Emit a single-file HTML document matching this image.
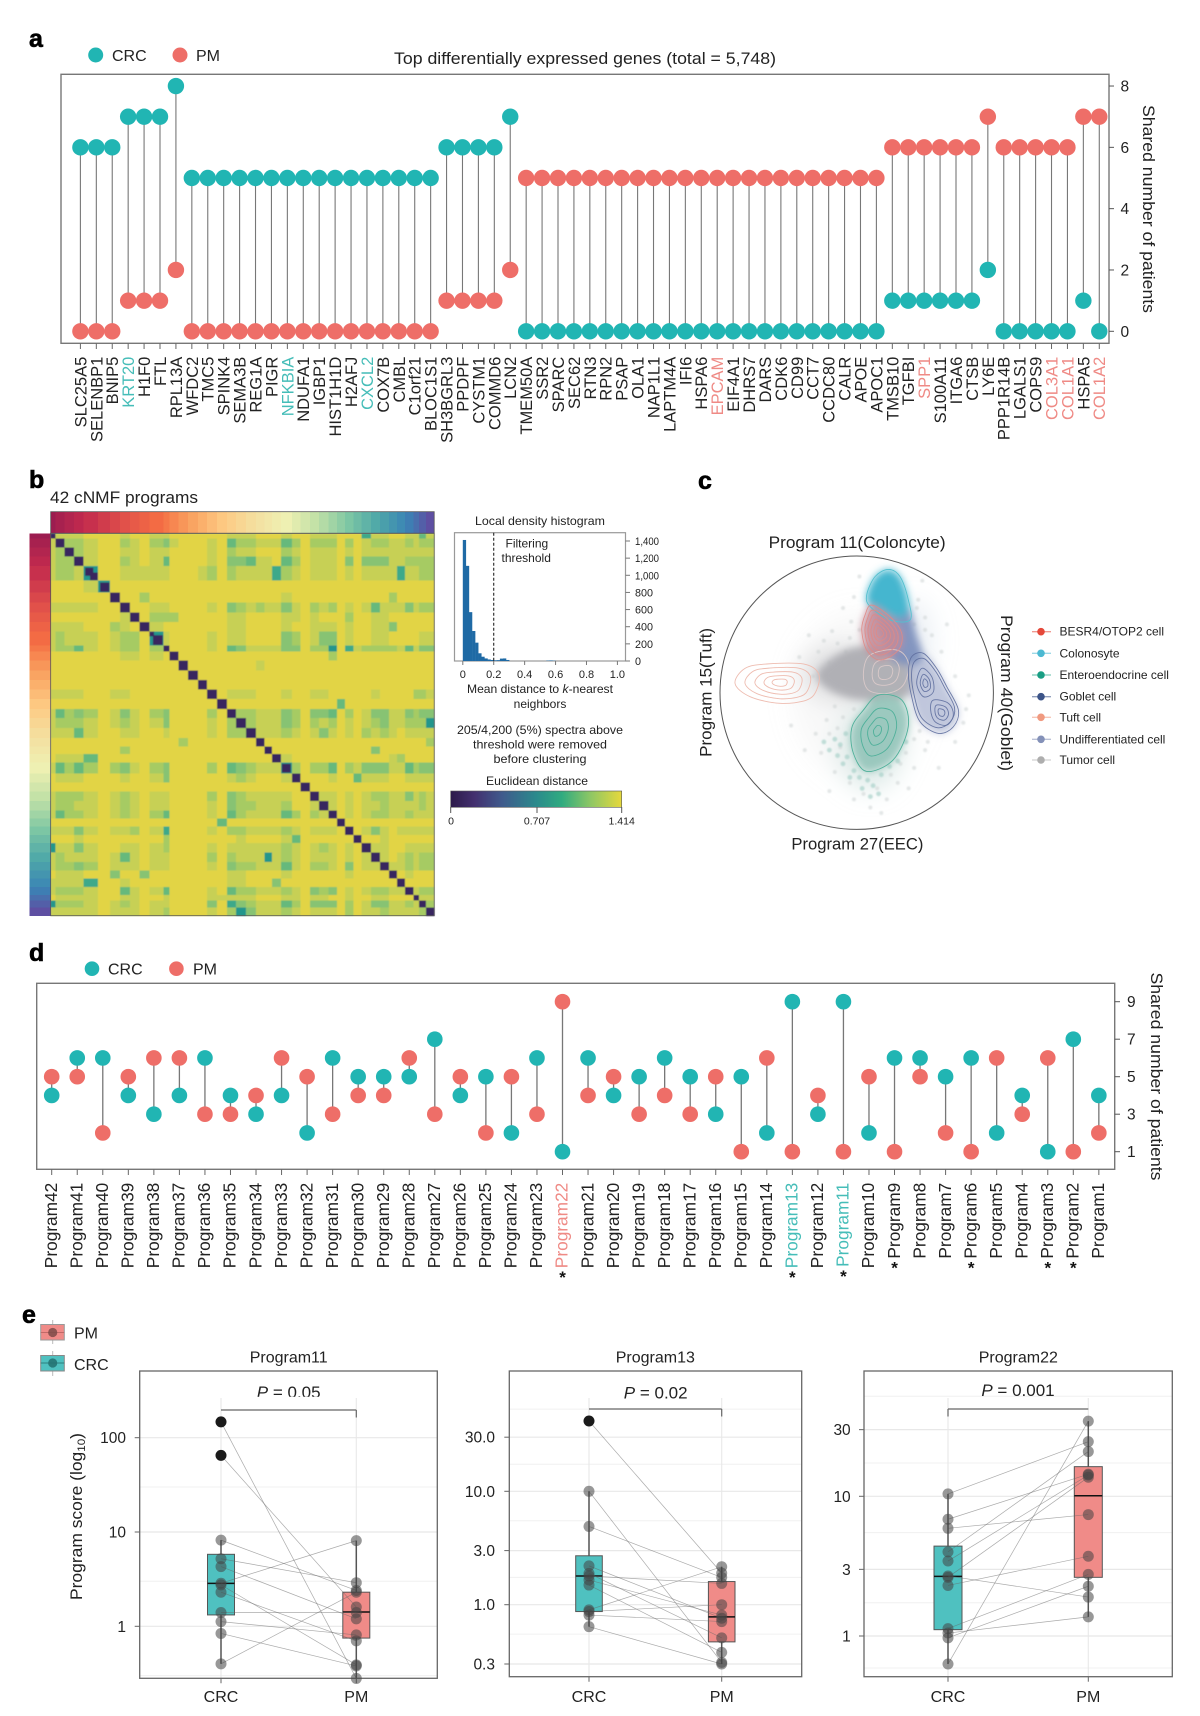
<!DOCTYPE html>
<html lang="en">
<head>
<meta charset="utf-8">
<title>Shared genes and cNMF programs figure</title>
<style>
html,body{margin:0;padding:0;background:#fff;}
svg{display:block;font-family:"Liberation Sans",sans-serif;}
text{fill:#222;}
</style>
</head>
<body>
<svg id="fig" xmlns="http://www.w3.org/2000/svg" width="1200" height="1716" viewBox="0 0 1200 1716">
<defs>
  <filter id="soft" x="-20%" y="-20%" width="140%" height="140%"><feGaussianBlur stdDeviation="0.45"/></filter>
  <filter id="grain" x="-20%" y="-20%" width="140%" height="140%"><feGaussianBlur stdDeviation="0.8"/></filter>
  <filter id="cloudBlur" x="-30%" y="-30%" width="160%" height="160%"><feGaussianBlur stdDeviation="4"/></filter>
  <filter id="hazeBlur" x="-50%" y="-50%" width="200%" height="200%"><feGaussianBlur stdDeviation="12"/></filter>
  <clipPath id="circleClip"><circle cx="856.7" cy="692.7" r="136.7"/></clipPath>
  <linearGradient id="euclid" x1="0" x2="1" y1="0" y2="0">
    <stop offset="0" stop-color="#2c1a4a"/><stop offset="0.14" stop-color="#43306f"/>
    <stop offset="0.3" stop-color="#3f5a8c"/><stop offset="0.5" stop-color="#2b8a8c"/>
    <stop offset="0.65" stop-color="#30ab80"/><stop offset="0.82" stop-color="#8fc764"/>
    <stop offset="1" stop-color="#e6d83c"/>
  </linearGradient>
</defs>

<rect x="0" y="0" width="1200" height="1716" fill="#fff"/>

<!-- Panel letters -->
<text x="29" y="47" font-size="25" font-weight="bold" style="fill:#000" stroke="#000" stroke-width="0.6">a</text>
<text x="29" y="488" font-size="25" font-weight="bold" style="fill:#000" stroke="#000" stroke-width="0.6">b</text>
<text x="698" y="489" font-size="25" font-weight="bold" style="fill:#000" stroke="#000" stroke-width="0.6">c</text>
<text x="29" y="961" font-size="25" font-weight="bold" style="fill:#000" stroke="#000" stroke-width="0.6">d</text>
<text x="22" y="1323" font-size="25" font-weight="bold" style="fill:#000" stroke="#000" stroke-width="0.6">e</text>

<!-- Panel a static -->
<g>
  <circle cx="95.7" cy="55" r="7.5" fill="#21b5b3"/>
  <text x="112" y="61" font-size="16">CRC</text>
  <circle cx="180" cy="55" r="7.5" fill="#ee6e68"/>
  <text x="196" y="61" font-size="16">PM</text>
  <text x="394" y="64" font-size="17" textLength="382" lengthAdjust="spacingAndGlyphs">Top differentially expressed genes (total = 5,748)</text>
  <rect x="61" y="74.3" width="1048" height="269" fill="none" stroke="#777" stroke-width="1.4"/>
  <text transform="translate(1149,209) rotate(90)" text-anchor="middle" dy="6" font-size="17" textLength="208" lengthAdjust="spacingAndGlyphs">Shared number of patients</text>
  <g id="panelA"></g>
</g>

<!-- Panel b static -->
<g>
  <text x="50" y="503" font-size="17" textLength="148" lengthAdjust="spacingAndGlyphs">42 cNMF programs</text>
  <g id="panelB"></g>
  <text x="540" y="525" font-size="12" text-anchor="middle" textLength="130" lengthAdjust="spacingAndGlyphs">Local density histogram</text>
  <rect x="454.5" y="532.7" width="171" height="128.3" fill="#fff" stroke="#999" stroke-width="1.2"/>
  <g id="panelHist"></g>
  <text x="505.5" y="547.5" font-size="12">Filtering</text>
  <text x="501.5" y="562" font-size="12">threshold</text>
  <text x="540" y="693" font-size="12" text-anchor="middle" textLength="146" lengthAdjust="spacingAndGlyphs">Mean distance to <tspan font-style="italic">k</tspan>-nearest</text>
  <text x="540" y="708" font-size="12" text-anchor="middle">neighbors</text>
  <text x="540" y="734" font-size="12" text-anchor="middle" textLength="166" lengthAdjust="spacingAndGlyphs">205/4,200 (5%) spectra above</text>
  <text x="540" y="748.5" font-size="12" text-anchor="middle" textLength="134" lengthAdjust="spacingAndGlyphs">threshold were removed</text>
  <text x="540" y="763" font-size="12" text-anchor="middle" textLength="93" lengthAdjust="spacingAndGlyphs">before clustering</text>
  <text x="537" y="785" font-size="12" text-anchor="middle" textLength="102" lengthAdjust="spacingAndGlyphs">Euclidean distance</text>
  <rect x="450.7" y="791" width="171" height="16.3" fill="url(#euclid)" stroke="#555" stroke-width="0.6"/>
  <line x1="450.7" x2="450.7" y1="807" y2="813" stroke="#555"/>
  <line x1="537" x2="537" y1="807" y2="813" stroke="#555"/>
  <line x1="621.7" x2="621.7" y1="807" y2="813" stroke="#555"/>
  <text x="451" y="824.5" font-size="10.5" text-anchor="middle">0</text>
  <text x="537" y="824.5" font-size="10.5" text-anchor="middle">0.707</text>
  <text x="621.7" y="824.5" font-size="10.5" text-anchor="middle">1.414</text>
</g>

<!-- Panel c static -->
<g>
  <g id="panelC"></g>
  <circle cx="856.7" cy="692.7" r="136.7" fill="none" stroke="#555" stroke-width="1"/>
  <text x="768.6" y="548" font-size="17" textLength="177" lengthAdjust="spacingAndGlyphs">Program 11(Coloncyte)</text>
  <text x="791.4" y="849.5" font-size="17" textLength="132" lengthAdjust="spacingAndGlyphs">Program 27(EEC)</text>
  <text transform="translate(711.5,692.4) rotate(-90)" text-anchor="middle" font-size="17" textLength="129" lengthAdjust="spacingAndGlyphs">Program 15(Tuft)</text>
  <text transform="translate(1001,693) rotate(90)" text-anchor="middle" font-size="17" textLength="156" lengthAdjust="spacingAndGlyphs">Program 40(Goblet)</text>
  <g id="legendC"></g>
</g>

<!-- Panel d static -->
<g>
  <circle cx="92" cy="968.7" r="7.3" fill="#21b5b3"/>
  <text x="108" y="974.5" font-size="16">CRC</text>
  <circle cx="176.4" cy="968.7" r="7.3" fill="#ee6e68"/>
  <text x="193" y="974.5" font-size="16">PM</text>
  <rect x="36.7" y="983.3" width="1078" height="186" fill="none" stroke="#777" stroke-width="1.4"/>
  <text transform="translate(1157,1076.5) rotate(90)" text-anchor="middle" dy="6" font-size="17" textLength="208" lengthAdjust="spacingAndGlyphs">Shared number of patients</text>
  <g id="panelD"></g>
</g>

<!-- Panel e static -->
<g>
  <g>
    <line x1="52.7" x2="52.7" y1="1320" y2="1344" stroke="#bbb"/>
    <rect x="40.7" y="1324.5" width="23.6" height="15.5" fill="#f08b88" stroke="#999"/>
    <line x1="40.7" x2="64.3" y1="1332.5" y2="1332.5" stroke="#c06a68"/>
    <circle cx="52.7" cy="1332.5" r="4.6" fill="#7c4a48" opacity="0.85"/>
    <text x="74" y="1338.5" font-size="16">PM</text>
    <line x1="52.7" x2="52.7" y1="1351" y2="1376" stroke="#bbb"/>
    <rect x="40.7" y="1355.5" width="23.6" height="15.5" fill="#4fc1c0" stroke="#888"/>
    <line x1="40.7" x2="64.3" y1="1363" y2="1363" stroke="#2c7f7e"/>
    <circle cx="52.7" cy="1363" r="4.6" fill="#257473" opacity="0.9"/>
    <text x="74" y="1370" font-size="16">CRC</text>
  </g>
  <text transform="translate(82,1516.5) rotate(-90)" text-anchor="middle" font-size="16.5" textLength="167" lengthAdjust="spacingAndGlyphs">Program score (log<tspan font-size="11" dy="3">10</tspan><tspan dy="-3">)</tspan></text>
  <g id="panelE"></g>
</g>

<script>
// ---------- Panel a data ----------
const geneNames = ["SLC25A5","SELENBP1","BNIP5","KRT20","H1F0","FTL","RPL13A","WFDC2","TMC5","SPINK4","SEMA3B","REG1A","PIGR","NFKBIA","NDUFA1","IGBP1","HIST1H1D","H2AFJ","CXCL2","COX7B","CMBL","C1orf21","BLOC1S1","SH3BGRL3","PPDPF","CYSTM1","COMMD6","LCN2","TMEM50A","SSR2","SPARC","SEC62","RTN3","RPN2","PSAP","OLA1","NAP1L1","LAPTM4A","IFI6","HSPA6","EPCAM","EIF4A1","DHRS7","DARS","CDK6","CD99","CCT7","CCDC80","CALR","APOE","APOC1","TMSB10","TGFBI","SPP1","S100A11","ITGA6","CTSB","LY6E","PPP1R14B","LGALS1","COPS9","COL3A1","COL1A1","HSPA5","COL1A2"];
const geneCrc = [6,6,6,7,7,7,8,5,5,5,5,5,5,5,5,5,5,5,5,5,5,5,5,6,6,6,6,7,0,0,0,0,0,0,0,0,0,0,0,0,0,0,0,0,0,0,0,0,0,0,0,1,1,1,1,1,1,2,0,0,0,0,0,1,0];
const genePm = [0,0,0,1,1,1,2,0,0,0,0,0,0,0,0,0,0,0,0,0,0,0,0,1,1,1,1,2,5,5,5,5,5,5,5,5,5,5,5,5,5,5,5,5,5,5,5,5,5,5,5,6,6,6,6,6,6,7,6,6,6,6,6,7,7];
const geneTeal = ["KRT20","NFKBIA","CXCL2"];
const geneRed = ["EPCAM","SPP1","COL3A1","COL1A1","COL1A2"];
const aTicks = [0,2,4,6,8];

// ---------- Panel b data ----------
const clusterSizes = [15,27,28,29,43,36,30,30,29,29,42,18,27,29,29,28,29,30,28,29,31,25,23,26,33,26,28,28,28,25,24,26,24,28,28,26,24,25,25,17,21,24];
const heatRows = [
"0888999899 8899999988 8999899888 9994889988 58",
"8077899789 7689998957 7888579777 9798778878 77",
"8707899889 8899998978 8999789888 9898888888 88",
"8770899789 8599998966 5889579888 9696668877 77",
"8778399888 8899987978 8884789888 9898888488 77",
"9999839999 9999999999 9999999999 9999999999 99",
"9999990997 9999999999 9999899999 9999997999 99",
"8888899099 8899998967 8788689787 9898588868 77",
"9999999809 7779999988 9999889899 9799889999 99",
"8888997890 8999999988 9999899888 9899886999 99",
"8788898779 3899998988 9999679866 9899889999 88",
"8775898779 7099998956 8888669773 9487777858 66",
"9999999889 8909999999 9999999997 9999999999 99",
"9999999999 9990999999 9899999999 9999999999 99",
"9999999999 9999099999 9999999999 9999999999 99",
"9999999999 9999909999 9999999999 9999999999 99",
"8888998899 9999990988 8999899889 9999899997 78",
"9999999999 9999999099 9999999999 5999999999 99",
"8576798689 7699997907 7888679665 9798668867 66",
"8777898789 8699998970 7888679787 9898768877 73",
"8885899889 9899998977 0888789868 9897878988 88",
"9999999999 9997999999 9099999999 9999999999 97",
"9999999799 9999999999 9909999999 9999699999 99",
"9888599999 9999999999 9990899999 9999998799 99",
"8575797689 7699997956 7888379775 9786668857 66",
"9888999899 8699999987 8999809998 9958889988 88",
"9999999999 9999999999 9999990999 9999999999 99",
"8777898789 8899997967 8888899088 9898778868 78",
"8778898789 8899998967 7888799808 9898878888 78",
"8577898789 7599998957 8888579780 9898778878 88",
"9999999999 9999999599 9999999999 0999999999 99",
"8886898879 8499998977 8888789888 9098689888 88",
"9998999999 9799999998 9999859999 9909989999 99",
"3886899889 8799998988 8888789878 9890889988 88",
"8788898589 8899997978 8838789888 9898089878 77",
"8776798889 8899998967 7888589778 9698808878 77",
"9888996996 9999999988 9999899999 9899990989 99",
"8888499899 9999999988 9996999999 9999999099 99",
"8777899589 8599998957 7888789676 9898778808 77",
"9888899889 9899998888 8999889889 9899889990 88",
"3777898789 8899996946 7888579666 9798668878 07",
"8888898889 8799998973 6888789888 9798878888 70"
];
const subClusterPrograms = [4,4,5,10,10,24];
const subClusterStart = [0.1,0.44,0.17,0,0.25,0.1];
const subClusterEnd = [0.67,0.98,0.94,0.33,0.95,0.9];
const heatLevelColors = ["#37275f","#3a3f80","#2f6f90","#23968c","#3ea98a","#66b97c","#87c373","#a6cb63","#c7d055","#e2d445"];
const spectralStops = ["#9c1d50","#c22a4e","#e0504a","#f46d43","#f9a05e","#fdc982","#f4e0a0","#eff0b2","#bfe0a6","#80c8a4","#4fa8a8","#3a85b5","#5e4fa2"];

// ---------- Histogram data ----------
const histCounts = [1412,1110,570,350,214,90,50,30,18,12,8,10,28,30,12,0,0,0,0,0,0,0,0,0,0,0,0,4,6,3];
const histBinWidth = 0.02;
const histThreshold = 0.2;
const histXTicks = [0,0.2,0.4,0.6,0.8,1.0];
const histXLabels = ["0","0.2","0.4","0.6","0.8","1.0"];
const histYTicks = [0,200,400,600,800,1000,1200,1400];
const histYLabels = ["0","200","400","600","800","1,000","1,200","1,400"];

// ---------- Panel c data (normalised polar coordinates) ----------
const cCellTypes = ["BESR4/OTOP2 cell","Colonosyte","Enteroendocrine cell","Goblet cell","Tuft cell","Undifferentiated cell","Tumor cell"];
const cCellColors = ["#e5483a","#4cb9d2","#1a9e84","#3c5488","#f09a80","#8491b8","#aeaeae"];
const cHazeEllipses = [[0.02,0.02,0.5,0.62,"#d2d4d6",0.16],[0.1,0.4,0.24,0.32,"#c4dcd7",0.5],[-0.1,-0.14,0.3,0.2,"#c4c4c8",0.55],[0.42,-0.38,0.14,0.3,"#c8d4e2",0.35]];
const cGreyMass = [[-0.29,-0.14],[-0.12,-0.29],[0.07,-0.34],[0.34,-0.29],[0.39,0],[0.24,0.05],[0,0.05],[-0.2,-0.02]];
const cBlueBand = [[0.2,-0.72],[0.36,-0.68],[0.44,-0.42],[0.48,-0.27],[0.4,-0.2],[0.25,-0.25],[0.15,-0.5]];
const cGobletFill = [[0.402,-0.263],[0.488,-0.288],[0.585,-0.178],[0.659,-0.044],[0.744,0.127],[0.707,0.249],[0.598,0.298],[0.463,0.212],[0.402,0.029],[0.378,-0.141]];
const cEecFill = [[0.16,0.017],[0.33,0.054],[0.377,0.249],[0.268,0.49],[0.073,0.576],[-0.024,0.444],[-0.037,0.261],[0.049,0.127]];
const cColonFill = [[0.232,-0.902],[0.317,-0.849],[0.378,-0.678],[0.36,-0.56],[0.244,-0.56],[0.098,-0.63],[0.073,-0.715],[0.134,-0.849]];
const cBesrFill = [[0.11,-0.641],[0.244,-0.556],[0.329,-0.434],[0.305,-0.312],[0.171,-0.239],[0.073,-0.312],[0.037,-0.459],[0.061,-0.568]];
const cContourTuft = [[-0.89,-0.068],[-0.817,-0.178],[-0.659,-0.21],[-0.39,-0.21],[-0.28,-0.141],[-0.293,-0.02],[-0.366,0.054],[-0.561,0.078],[-0.78,0.029]];
const cContourColon = [[0.232,-0.902],[0.317,-0.849],[0.378,-0.678],[0.39,-0.532],[0.244,-0.532],[0.098,-0.63],[0.073,-0.715],[0.134,-0.849]];
const cContourBesr = [[0.11,-0.641],[0.244,-0.556],[0.329,-0.434],[0.305,-0.312],[0.171,-0.239],[0.073,-0.312],[0.037,-0.459],[0.061,-0.568]];
const cContourTumor = [[0.098,-0.276],[0.293,-0.312],[0.378,-0.215],[0.341,-0.056],[0.22,0.005],[0.085,-0.02],[0.049,-0.141]];
const cContourGoblet = [[0.402,-0.263],[0.488,-0.288],[0.585,-0.178],[0.659,-0.044],[0.744,0.127],[0.707,0.249],[0.598,0.298],[0.463,0.212],[0.402,0.029],[0.378,-0.141]];
const cContourGobletA = [[0.476,-0.178],[0.549,-0.117],[0.561,-0.007],[0.488,0.029],[0.439,-0.068]];
const cContourGobletB = [[0.561,0.054],[0.671,0.078],[0.707,0.163],[0.659,0.237],[0.573,0.212],[0.541,0.127]];
const cContourEec = [[0.16,0.017],[0.33,0.054],[0.377,0.249],[0.268,0.49],[0.073,0.576],[-0.024,0.444],[-0.037,0.261],[0.049,0.127]];
const cSparsePoints = [[-0.35,-0.42],[-0.28,-0.3],[-0.18,-0.45],[-0.1,-0.62],[-0.05,-0.4],[-0.42,-0.26],[-0.2,-0.22],[0.5,-0.55],[0.55,-0.42],[0.62,-0.3],[0.45,-0.68],[0.72,-0.12],[0.8,0.12],[0.72,0.36],[0.5,0.42],[0.42,0.55],[0.3,0.66],[0.22,0.78],[0.05,0.74],[-0.05,0.66],[-0.16,0.58],[-0.26,0.44],[-0.3,0.3],[-0.38,0.42],[-0.2,0.72],[0.1,0.84],[-0.12,0.4],[-0.22,0.2],[-0.48,0.24],[0.38,0.7],[0.6,0.55],[-0.02,-0.7],[0.02,-0.85],[0.48,-0.82],[0.66,-0.5],[-0.32,-0.12],[-0.04,-0.52],[0.02,-0.46],[-0.14,-0.36],[-0.24,-0.38],[-0.08,-0.3],[-0.02,0.12],[-0.1,0.18],[-0.16,0.1],[-0.2,0.3],[-0.14,0.26],[0.42,0.34],[0.46,0.28],[0.52,0.36],[0.36,0.44],[0.15,0.7],[0.25,0.6],[0.32,0.52],[-0.02,0.78],[0.18,0.88],[0.42,-0.5],[0.5,-0.46],[0.44,-0.62],[0.78,0.22],[0.82,0.02]];
const cEecSpray = [[-0.08,0.3],[-0.12,0.38],[-0.16,0.34],[-0.07,0.47],[-0.02,0.57],[-0.1,0.52],[0.02,0.62],[0.08,0.64],[0.12,0.68],[0.04,0.7],[-0.05,0.62],[0.18,0.6],[0.24,0.54],[-0.14,0.46],[-0.2,0.42],[-0.24,0.36],[0.16,0.74],[0.1,0.76],[0.36,0.36],[0.3,0.5]];
const cContourLevels = [1,0.78,0.56,0.36,0.18];

// ---------- Panel d data ----------
const programNames = ["Program42","Program41","Program40","Program39","Program38","Program37","Program36","Program35","Program34","Program33","Program32","Program31","Program30","Program29","Program28","Program27","Program26","Program25","Program24","Program23","Program22","Program21","Program20","Program19","Program18","Program17","Program16","Program15","Program14","Program13","Program12","Program11","Program10","Program9","Program8","Program7","Program6","Program5","Program4","Program3","Program2","Program1"];
const programCrc = [4,6,6,4,3,4,6,4,3,4,2,6,5,5,5,7,4,5,2,6,1,6,4,5,6,5,3,5,2,9,3,9,2,6,6,5,6,2,4,1,7,4];
const programPm = [5,5,2,5,6,6,3,3,4,6,5,3,4,4,6,3,5,2,5,3,9,4,5,3,4,3,5,1,6,1,4,1,5,1,5,2,1,6,3,6,1,2];
const programRed = ["Program22"];
const programTeal = ["Program13","Program11"];
const programStarred = ["Program22","Program13","Program11","Program9","Program6","Program3","Program2"];
const dTicks = [1,3,5,7,9];

// ---------- Panel e data ----------
const p11CrcScores = [147,65,8.2,5.2,4.3,2.86,2.75,2.3,1.4,1.12,0.84,0.4];
const p11PmScores = [0.28,1.6,2.4,2.9,1.2,8.1,0.39,0.7,1.4,0.81,0.38,2.3];
const p11CrcBox = [0.4,1.32,2.85,5.8,8.2];
const p11PmBox = [0.28,0.75,1.42,2.3,8.1];
const p11Ticks = [1,10,100];
const p11TickLabels = ["1","10","100"];
const p11Minor = [0.3,3,30];
const p13CrcScores = [41.7,10,4.9,2.2,1.89,1.79,1.65,1.49,0.9,0.87,0.81,0.64];
const p13PmScores = [1.9,0.31,1.74,0.76,0.51,1.54,0.81,0.38,2.16,1.0,0.71,0.3];
const p13CrcBox = [0.64,0.87,1.79,2.7,10];
const p13PmBox = [0.3,0.47,0.78,1.6,2.16];
const p13Ticks = [0.3,1,3,10,30];
const p13TickLabels = ["0.3","1.0","3.0","10.0","30.0"];
const p13Minor = [0.55,1.74,5.5,17.3,53];
const p22CrcScores = [10.4,6.85,5.9,4.0,3.44,2.69,2.63,2.3,1.13,1.05,0.97,0.63];
const p22PmScores = [24.6,14.4,7.4,20.9,14.2,1.9,13.7,3.72,2.76,1.37,2.27,34.5];
const p22CrcBox = [0.63,1.11,2.67,4.4,10.4];
const p22PmBox = [1.37,2.63,10.1,16.3,34.5];
const p22Ticks = [1,3,10,30];
const p22TickLabels = ["1","3","10","30"];
const p22Minor = [0.59,1.73,5.5,17.3,52];
const pValues = ["0.05","0.02","0.001"];
const programTitles = ["Program11","Program13","Program22"];
const groupLabels = ["CRC","PM"];

// ---------- Helpers ----------
const NS = "http://www.w3.org/2000/svg";
const TEAL = "#21b5b3", CORAL = "#ee6e68", LABEL_TEAL = "#45bdb8", LABEL_RED = "#ef8a85";
function mk(tag, attrs, parent, txt) {
  const e = document.createElementNS(NS, tag);
  for (const k in attrs) e.setAttribute(k, attrs[k]);
  if (txt !== undefined) e.textContent = txt;
  parent.appendChild(e);
  return e;
}
function hexMix(a, b, t) {
  const pa = [1,3,5].map(i => parseInt(a.substr(i,2),16));
  const pb = [1,3,5].map(i => parseInt(b.substr(i,2),16));
  return "rgb(" + pa.map((v,i) => Math.round(v + (pb[i]-v)*t)).join(",") + ")";
}
function spectral(t) {
  const p = t * (spectralStops.length - 1);
  const i = Math.min(Math.floor(p), spectralStops.length - 2);
  return hexMix(spectralStops[i], spectralStops[i+1], p - i);
}

// ---------- Panel a ----------
(function () {
  const root = document.getElementById("panelA");
  const xA = i => 80.4 + 15.92 * i;
  const yA = v => 331.3 - 30.66 * v;
  geneNames.forEach((g, i) => {
    const stem = mk("line", {x1:xA(i), x2:xA(i), y1:yA(geneCrc[i]), y2:yA(genePm[i]), stroke:"#777", "stroke-width":1.1}, root);
    
    
    const tick = mk("line", {x1:xA(i), x2:xA(i), y1:343.3, y2:349, stroke:"#666", "stroke-width":1}, root);
    
    
    const col = geneTeal.includes(g) ? LABEL_TEAL : geneRed.includes(g) ? LABEL_RED : "#222";
    const lab = mk("text", {transform:"translate(" + xA(i) + ",356.7) rotate(-90)", "text-anchor":"end", dy:"0.36em", "font-size":16.5, style:"fill:" + col}, root, g);
    
    
  });
  geneNames.forEach((g, i) => {
    const c = mk("circle", {cx:xA(i), cy:yA(geneCrc[i]), r:8.2, fill:TEAL}, root);
    
    
    const p = mk("circle", {cx:xA(i), cy:yA(genePm[i]), r:8.2, fill:CORAL}, root);
    
    
  });
  aTicks.forEach(v => {
    const t = mk("line", {x1:1109, x2:1114, y1:yA(v), y2:yA(v), stroke:"#555"}, root);
    
    
    const l = mk("text", {x:1120.5, y:yA(v)+5.5, "font-size":15.5}, root, String(v));
    
    
  });
})();

// ---------- Panel b heatmap ----------
(function () {
  const root = document.getElementById("panelB");
  const total = clusterSizes.reduce((a,b) => a+b, 0);
  const X0 = 50.7, Y0 = 533.3, W = 383.5, H = 382.4;
  const edgesX = [X0], edgesY = [Y0];
  let acc = 0;
  clusterSizes.forEach(s => { acc += s; edgesX.push(X0 + W*acc/total); edgesY.push(Y0 + H*acc/total); });
  const g = mk("g", {filter:"url(#soft)"}, root);
  
  
  const rows = heatRows.map(r => r.replace(/ /g,""));
  rows.forEach((row, r) => {
    for (let c = 0; c < row.length; c++) {
      const cell = mk("rect", {x:edgesX[c], y:edgesY[r], width:edgesX[c+1]-edgesX[c]+0.4, height:edgesY[r+1]-edgesY[r]+0.4, fill:heatLevelColors[+row[c]], "shape-rendering":"crispEdges"}, g);
      
      
    }
  });
  subClusterPrograms.forEach((p, i) => {
    const wX = edgesX[p+1]-edgesX[p], wY = edgesY[p+1]-edgesY[p];
    const sub = mk("rect", {x:edgesX[p]+wX*subClusterStart[i], y:edgesY[p]+wY*subClusterStart[i], width:wX*(subClusterEnd[i]-subClusterStart[i]), height:wY*(subClusterEnd[i]-subClusterStart[i]), fill:heatLevelColors[0]}, g);
    
    
  });
  clusterSizes.forEach((s, i) => {
    const col = spectral(i / (clusterSizes.length - 1));
    const top = mk("rect", {x:edgesX[i], y:511.7, width:edgesX[i+1]-edgesX[i]+0.4, height:21.6, fill:col, "shape-rendering":"crispEdges"}, root);
    
    
    const left = mk("rect", {x:29.3, y:edgesY[i], width:21.4, height:edgesY[i+1]-edgesY[i]+0.4, fill:col, "shape-rendering":"crispEdges"}, root);
    
    
  });
  const f1 = mk("rect", {x:50.7, y:511.7, width:383.5, height:21.6, fill:"none", stroke:"#555", "stroke-width":0.8}, root);
  
  
  const f2 = mk("rect", {x:50.7, y:533.3, width:383.5, height:382.4, fill:"none", stroke:"#555", "stroke-width":0.8}, root);
  
  
})();

// ---------- Histogram ----------
(function () {
  const root = document.getElementById("panelHist");
  const xH = v => 462.8 + 154.6 * v;
  const yH = c => 661 - c * (120 / 1400);
  histCounts.forEach((c, i) => {
    if (!c) return;
    const b = mk("rect", {x:xH(i*histBinWidth), y:yH(c), width:xH(histBinWidth)-xH(0)+0.2, height:yH(0)-yH(c), fill:"#1f6aa5"}, root);
    
    
  });
  const th = mk("line", {x1:xH(histThreshold), x2:xH(histThreshold), y1:532.7, y2:661, stroke:"#222", "stroke-width":1.1, "stroke-dasharray":"3 2"}, root);
  
  
  histXTicks.forEach((v, i) => {
    const t = mk("line", {x1:xH(v), x2:xH(v), y1:661, y2:665, stroke:"#777"}, root);
    
    
    const l = mk("text", {x:xH(v), y:678, "font-size":11, "text-anchor":"middle"}, root, histXLabels[i]);
    
    
  });
  histYTicks.forEach((v, i) => {
    const t = mk("line", {x1:625.5, x2:630, y1:yH(v), y2:yH(v), stroke:"#777"}, root);
    
    
    const l = mk("text", {x:635, y:yH(v)+4, "font-size":11, textLength:histYLabels[i].length > 3 ? 24 : histYLabels[i].length*6, lengthAdjust:"spacingAndGlyphs"}, root, histYLabels[i]);
    
    
  });
})();

// ---------- Panel c ----------
(function () {
  const root = document.getElementById("panelC");
  const CX = 856.7, CY = 692.7, R = 136.7;
  const xC = u => CX + R * u;
  const yC = v => CY + R * v;
  function smooth(pts) {
    const n = pts.length;
    let d = "M" + pts[0][0] + " " + pts[0][1];
    for (let i = 0; i < n; i++) {
      const p0 = pts[(i-1+n)%n], p1 = pts[i], p2 = pts[(i+1)%n], p3 = pts[(i+2)%n];
      d += "C" + (p1[0]+(p2[0]-p0[0])/6) + " " + (p1[1]+(p2[1]-p0[1])/6) + " " + (p2[0]-(p3[0]-p1[0])/6) + " " + (p2[1]-(p3[1]-p1[1])/6) + " " + p2[0] + " " + p2[1];
    }
    return d + "Z";
  }
  function toPx(pts, level) {
    const cu = pts.reduce((a,p) => a+p[0],0)/pts.length;
    const cv = pts.reduce((a,p) => a+p[1],0)/pts.length;
    return pts.map(p => [xC(cu + (p[0]-cu)*level), yC(cv + (p[1]-cv)*level)]);
  }
  const clip = mk("g", {"clip-path":"url(#circleClip)"}, root);
  
  
  const haze = mk("g", {filter:"url(#hazeBlur)"}, clip);
  
  
  cHazeEllipses.forEach(h => {
    const e = mk("ellipse", {cx:xC(h[0]), cy:yC(h[1]), rx:R*h[2], ry:R*h[3], fill:h[4], opacity:h[5]}, haze);
    
    
  });
  const grain = mk("g", {filter:"url(#grain)"}, clip);
  
  
  cSparsePoints.forEach(p => {
    const d = mk("circle", {cx:xC(p[0]), cy:yC(p[1]), r:2, fill:"#cdd3d3", opacity:0.55}, grain);
    
    
  });
  cEecSpray.forEach(p => {
    const d = mk("circle", {cx:xC(p[0]), cy:yC(p[1]), r:2.4, fill:"#a9d2ca", opacity:0.7}, grain);
    
    
  });
  const core = mk("g", {filter:"url(#cloudBlur)"}, clip);
  
  
  const fills = [[cGreyMass,"#aeaeb3",0.95,'tumor-cell-cloud'],[cEecFill,"#8ec2b6",0.85,'eec-cell-cloud'],[cGobletFill,"#98a4c6",0.6,'goblet-cell-cloud'],[cBlueBand,"#7d90bd",0.95,'undifferentiated-cell-cloud'],[cColonFill,"#45b6cf",1,'colonocyte-cloud'],[cBesrFill,"#c18d9b",0.9,'besr4-cell-cloud']];
  fills.forEach(f => {
    const e = mk("path", {d:smooth(toPx(f[0],1)), fill:f[1], opacity:f[2]}, core);
    
    
  });
  const contours = [
    [cContourTumor,"#d9c9c9",[1,0.6,0.32],1],
    [cContourTuft,"#eebcb0",cContourLevels,1],
    [cContourColon,"#55c0cf",[1],1],
    [cContourBesr,"#e08a85",[1,0.82,0.65,0.48,0.32,0.18],0.9],
    [cContourGoblet,"#5f6f9f",[1,0.86],0.9],
    [cContourGobletA,"#5f6f9f",[1,0.6,0.3],0.9],
    [cContourGobletB,"#5f6f9f",[1,0.6,0.3],0.9],
    [cContourEec,"#4fb09a",[1,0.62,0.36,0.14],1]
  ];
  contours.forEach(c => {
    c[2].forEach(l => {
      const p = mk("path", {d:smooth(toPx(c[0],l)), fill:"none", stroke:c[1], "stroke-width":0.9, opacity:c[3]}, clip);
      
      
    });
  });
  const legend = document.getElementById("legendC");
  const legendY = [631.7,653.3,675,696.7,717.3,739.3,760];
  cCellTypes.forEach((n, i) => {
    const y = legendY[i];
    const ln = mk("line", {x1:1032, x2:1051, y1:y, y2:y, stroke:cCellColors[i], "stroke-width":1.3, opacity:0.55}, legend);
    
    
    const d = mk("circle", {cx:1041, cy:y, r:3.8, fill:cCellColors[i]}, legend);
    
    
    const t = mk("text", {x:1059.5, y:y+4, "font-size":12}, legend, n);
    
    
  });
})();

// ---------- Panel d ----------
(function () {
  const root = document.getElementById("panelD");
  const xD = i => 51.7 + 25.54 * i;
  const yD = v => 1151.7 - (v - 1) * 18.75;
  programNames.forEach((n, i) => {
    const stem = mk("line", {x1:xD(i), x2:xD(i), y1:yD(programCrc[i]), y2:yD(programPm[i]), stroke:"#777", "stroke-width":1.3}, root);
    
    
    const tick = mk("line", {x1:xD(i), x2:xD(i), y1:1169.3, y2:1175, stroke:"#666"}, root);
    
    
    const col = programRed.includes(n) ? LABEL_RED : programTeal.includes(n) ? LABEL_TEAL : "#222";
    const lab = mk("text", {transform:"translate(" + (xD(i)-1) + ",1182.7) rotate(-90)", "text-anchor":"end", dy:"0.36em", "font-size":17.3, style:"fill:" + col}, root, n);
    
    
    if (programStarred.includes(n)) {
      const len = lab.getComputedTextLength();
      const star = mk("text", {x:xD(i), y:1182.7 + len + 15, "font-size":17, "font-weight":"bold", "text-anchor":"middle", style:"fill:#111"}, root, "*");
      
      
    }
  });
  programNames.forEach((n, i) => {
    const c = mk("circle", {cx:xD(i), cy:yD(programCrc[i]), r:7.8, fill:TEAL}, root);
    
    
    const p = mk("circle", {cx:xD(i), cy:yD(programPm[i]), r:7.8, fill:CORAL}, root);
    
    
  });
  dTicks.forEach(v => {
    const t = mk("line", {x1:1114.7, x2:1120, y1:yD(v), y2:yD(v), stroke:"#555"}, root);
    
    
    const l = mk("text", {x:1127, y:yD(v)+5.5, "font-size":15.5}, root, String(v));
    
    
  });
})();

// ---------- Panel e ----------
(function () {
  const root = document.getElementById("panelE");
  const frames = [
    {left:139.7, right:437.3, top:1371, bottom:1678.3, xCrc:221, xPm:356.3, refVal:1, refY:1626.3, perDecade:94.3, half:13.5, labelX:126, titleX:288.7, pX:288.7, pY:1398, brY:1410, drop:"right", crc:p11CrcScores, pm:p11PmScores, crcBox:p11CrcBox, pmBox:p11PmBox, ticks:p11Ticks, tickLabels:p11TickLabels, minor:p11Minor},
    {left:509.3, right:801.7, top:1371, bottom:1676.7, xCrc:589, xPm:721.7, refVal:1, refY:1604.7, perDecade:113.4, half:13.3, labelX:495, titleX:655.3, pX:655.7, pY:1398.3, brY:1409, drop:"right", crc:p13CrcScores, pm:p13PmScores, crcBox:p13CrcBox, pmBox:p13PmBox, ticks:p13Ticks, tickLabels:p13TickLabels, minor:p13Minor},
    {left:864, right:1172.3, top:1371, bottom:1676.7, xCrc:948, xPm:1088.3, refVal:1, refY:1636, perDecade:139.7, half:14, labelX:850.7, titleX:1018.3, pX:1018, pY:1396, brY:1409, drop:"left", crc:p22CrcScores, pm:p22PmScores, crcBox:p22CrcBox, pmBox:p22PmBox, ticks:p22Ticks, tickLabels:p22TickLabels, minor:p22Minor}
  ];
  frames.forEach((f, k) => {
    const g = mk("g", {}, root);
    
    
    const yS = v => f.refY - Math.log10(v / f.refVal) * f.perDecade;
    const title = mk("text", {x:f.titleX, y:1362.7, "font-size":16, "text-anchor":"middle"}, g, programTitles[k]);
    
    
    f.minor.forEach(v => {
      const l = mk("line", {x1:f.left, x2:f.right, y1:yS(v), y2:yS(v), stroke:"#f0f0f0", "stroke-width":1}, g);
      
      
    });
    f.ticks.forEach((v, i) => {
      const l = mk("line", {x1:f.left, x2:f.right, y1:yS(v), y2:yS(v), stroke:"#e8e8e8", "stroke-width":1.2}, g);
      
      
      const t = mk("line", {x1:f.left-5, x2:f.left, y1:yS(v), y2:yS(v), stroke:"#666"}, g);
      
      
      const lb = mk("text", {x:f.labelX, y:yS(v)+5.5, "font-size":15.5, "text-anchor":"end"}, g, f.tickLabels[i]);
      
      
    });
    [f.xCrc, f.xPm].forEach((x, i) => {
      const v = mk("line", {x1:x, x2:x, y1:1398, y2:f.bottom, stroke:"#e8e8e8", "stroke-width":1.1}, g);
      
      
      const t = mk("line", {x1:x, x2:x, y1:f.bottom, y2:f.bottom+5, stroke:"#666"}, g);
      
      
      const lb = mk("text", {x:x, y:1702, "font-size":16, "text-anchor":"middle"}, g, groupLabels[i]);
      
      
    });
    const frame = mk("rect", {x:f.left, y:f.top, width:f.right-f.left, height:f.bottom-f.top, fill:"none", stroke:"#666", "stroke-width":1.3}, g);
    
    
    const pTxt = mk("text", {x:f.pX, y:f.pY, "font-size":17, "text-anchor":"middle"}, g);
    
    
    const pIt = mk("tspan", {"font-style":"italic"}, pTxt, "P");
    
    
    const pVal = mk("tspan", {}, pTxt, " = " + pValues[k]);
    
    
    if (k === 0) {
      const mask = mk("rect", {x:f.pX-35, y:1396.8, width:70, height:5, fill:"#fff"}, g);
      
      
    }
    const dropX = f.drop === "right" ? f.xPm : f.xCrc;
    const br = mk("path", {d:"M" + f.xCrc + " " + f.brY + "H" + f.xPm + "M" + dropX + " " + f.brY + "V" + (f.brY+7.5), fill:"none", stroke:"#666", "stroke-width":1.2}, g);
    
    
    [[f.xCrc, f.crcBox, "#4fc1c0"], [f.xPm, f.pmBox, "#f08b88"]].forEach(b => {
      const s = b[1];
      const wh = mk("line", {x1:b[0], x2:b[0], y1:yS(s[4]), y2:yS(s[0]), stroke:"#555", "stroke-width":1.5}, g);
      
      
      const bx = mk("rect", {x:b[0]-f.half, y:yS(s[3]), width:f.half*2, height:yS(s[1])-yS(s[3]), fill:b[2], stroke:"#555", "stroke-width":1}, g);
      
      
      const md = mk("line", {x1:b[0]-f.half, x2:b[0]+f.half, y1:yS(s[2]), y2:yS(s[2]), stroke:"#111", "stroke-width":1.5}, g);
      
      
    });
    f.crc.forEach((v, i) => {
      const l = mk("line", {x1:f.xCrc, x2:f.xPm, y1:yS(v), y2:yS(f.pm[i]), stroke:"#666", "stroke-width":0.7, opacity:0.55}, g);
      
      
    });
    [[f.xCrc, f.crc, f.crcBox], [f.xPm, f.pm, f.pmBox]].forEach(b => {
      b[1].forEach(v => {
        const out = v > b[2][4];
        const d = mk("circle", {cx:b[0], cy:yS(v), r:5.5, fill: out ? "#1a1a1a" : "#444", opacity: out ? 1 : 0.55}, g);
        
        
      });
    });
  });
})();
</script>
</svg>
</body>
</html>
